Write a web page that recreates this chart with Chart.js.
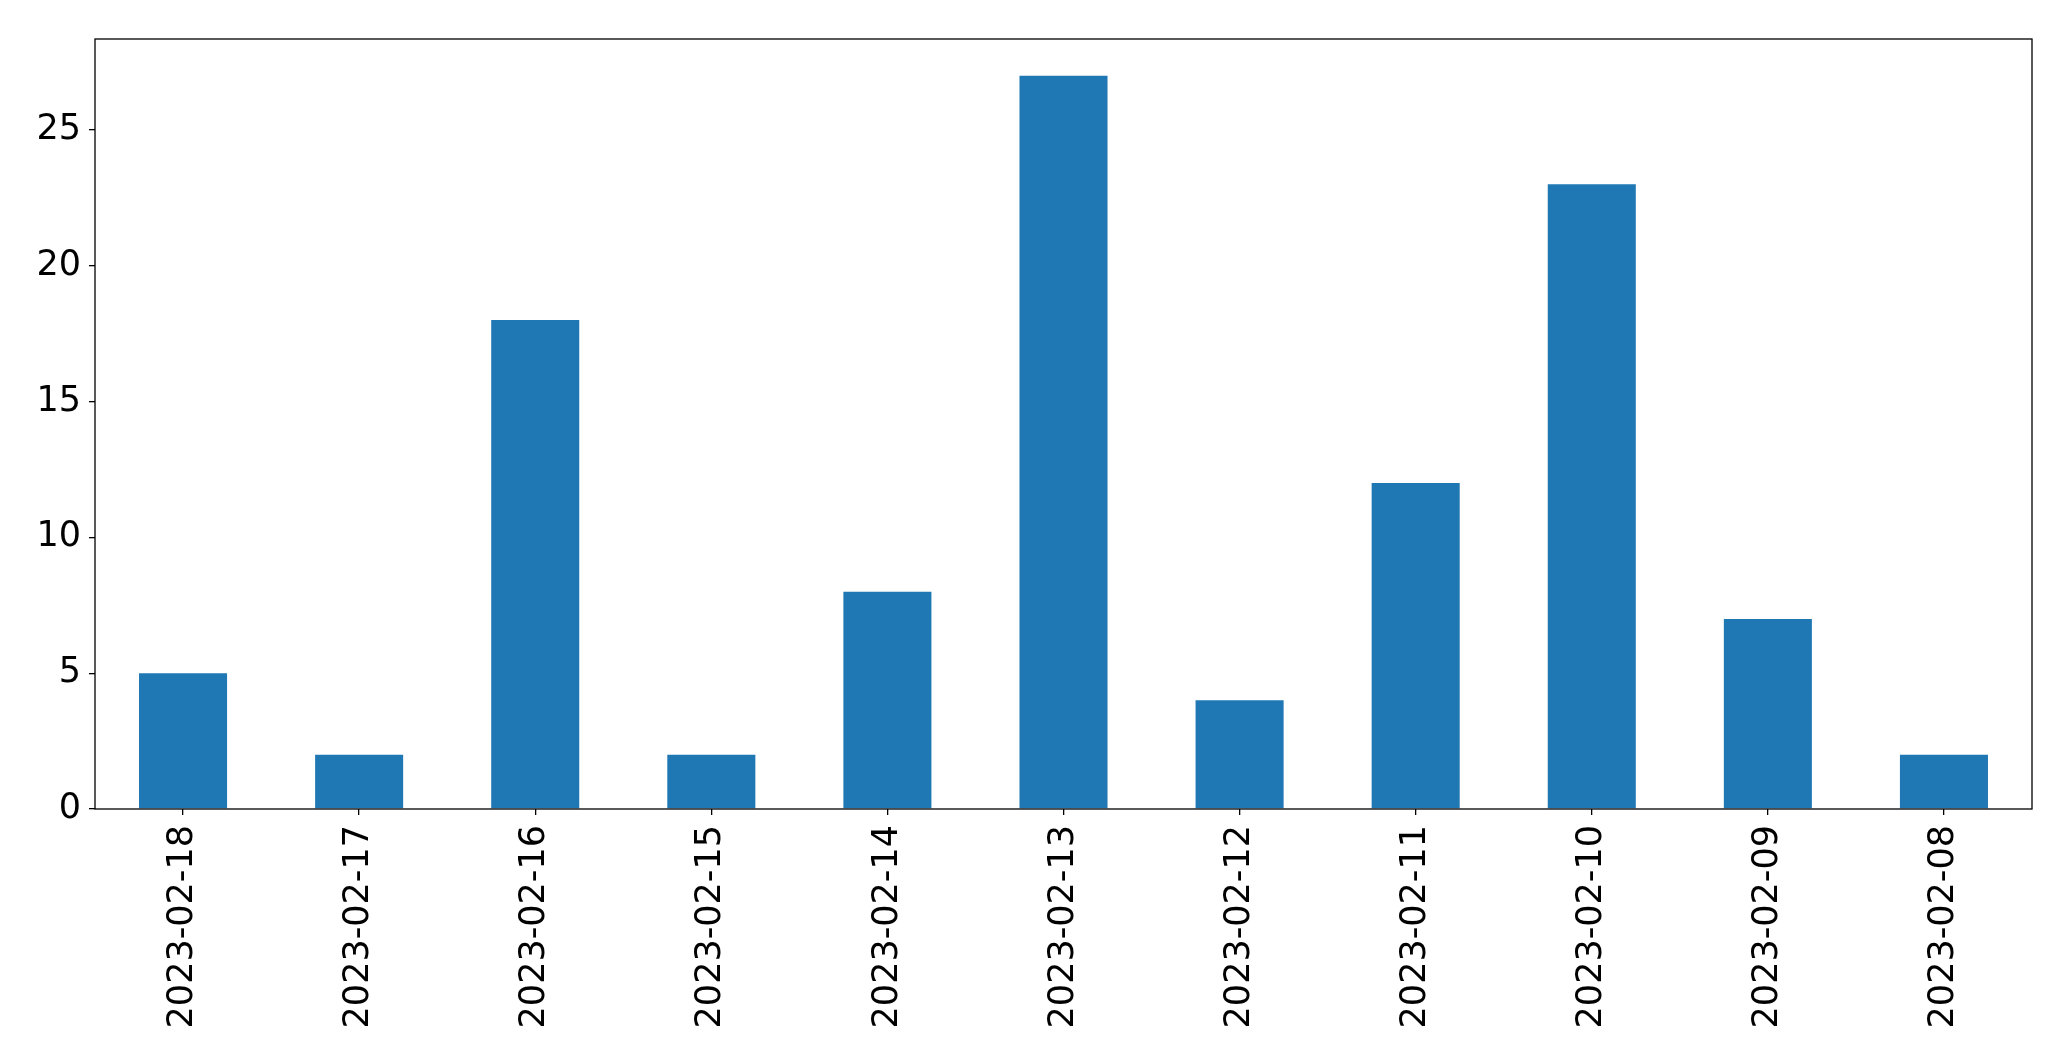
<!DOCTYPE html>
<html>
<head>
<meta charset="utf-8">
<script src="https://cdn.jsdelivr.net/npm/chart.js@4/dist/chart.umd.min.js"></script>
<style>
  html, body { margin: 0; padding: 0; background: #fff; }
</style>
</head>
<body>
<canvas id="myChart" width="2071" height="1061"></canvas>
<script>
// dates and daily counts
let dates = ['2023-02-18', '2023-02-17', '2023-02-16', '2023-02-15', '2023-02-14', '2023-02-13',
  '2023-02-12', '2023-02-11', '2023-02-10', '2023-02-09', '2023-02-08'];
let counts = [5, 2, 18, 2, 8, 27, 4, 12, 23, 7, 2];
let yTicks = [0, 5, 10, 15, 20, 25];

let font = { family: 'DejaVu Sans', size: 35 };

//draws the box around the plot area
let frame = {
  id: 'frame',
  afterDraw(chart) {
    let a = chart.chartArea;
    let ctx = chart.ctx;
    ctx.save();
    ctx.strokeStyle = '#000';
    ctx.lineWidth = 1.3;
    ctx.strokeRect(a.left, a.top, a.right - a.left, a.bottom - a.top);
    ctx.restore();
  }
};

let ctx = document.getElementById('myChart').getContext('2d');
let chart = new Chart(ctx, {
  type: 'bar',
  data: {
    labels: dates,
    datasets: [{
      data: counts,
      backgroundColor: '#1f77b4',
      barPercentage: 0.5,
      categoryPercentage: 1
    }]
  },
  options: {
    responsive: false,
    animation: false,
    layout: { padding: { top: 39, right: 39, left: 0, bottom: 0 } },
    plugins: { legend: { display: false }, tooltip: { enabled: false } },
    scales: {
      x: {
        offset: true,
        grid: { display: true, offset: false, drawOnChartArea: false, drawTicks: true, tickLength: 6, color: '#000', lineWidth: 1.3 },
        border: { display: false },
        ticks: { color: '#000', font: font, minRotation: 90, maxRotation: 90, padding: 10, autoSkip: false },
        afterFit(scale) { scale.height = 252; }
      },
      y: {
        min: 0,
        max: 28.35,
        afterBuildTicks(scale) { scale.ticks = yTicks.map(v => ({ value: v })); },
        grid: { display: true, drawOnChartArea: false, drawTicks: true, tickLength: 6, color: '#000', lineWidth: 1.3 },
        border: { display: false },
        ticks: { color: '#000', font: font, padding: 8 },
        afterFit(scale) { scale.width = 95; }
      }
    }
  },
  plugins: [frame]
});
</script>
</body>
</html>
